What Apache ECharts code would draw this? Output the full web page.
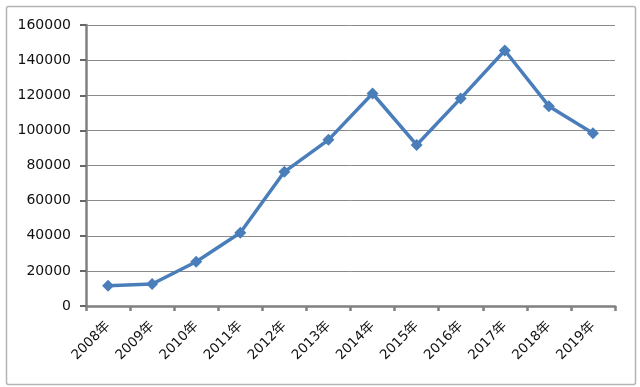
<!DOCTYPE html>
<html>
<head>
<meta charset="utf-8">
<script src="https://cdn.jsdelivr.net/npm/echarts@6/dist/echarts.min.js"></script>
<style>html,body{margin:0;padding:0;background:#fff}#c{width:640px;height:387px}</style>
</head>
<body>
<div id="c"></div>
<script>
const categories = ['2008年','2009年','2010年','2011年','2012年','2013年','2014年','2015年','2016年','2017年','2018年','2019年'];
const values = [11600, 12500, 25200, 41700, 76400, 94600, 121000, 91700, 118200, 145500, 113800, 98300];
const yTicks = [0, 20000, 40000, 60000, 80000, 100000, 120000, 140000, 160000];

const chart = echarts.init(document.getElementById('c'), null, {renderer: 'canvas'});
chart.setOption({
  animation: false,
  backgroundColor: '#fff',
  graphic: [{
    type: 'rect', left: 4, top: 4, silent: true,
    shape: {width: 629, height: 378, r: 2},
    style: {fill: 'none', stroke: '#b4b4b4', lineWidth: 1.5}
  }],
  grid: {left: 86, right: 25, top: 25, bottom: 81},
  xAxis: {
    type: 'category',
    data: categories,
    boundaryGap: true,
    axisLine: {show: true, lineStyle: {color: '#808080', width: 2.5}},
    axisTick: {show: true, alignWithLabel: false, length: 5, lineStyle: {color: '#808080', width: 2.5}},
    axisLabel: {rotate: 45, margin: 18, color: '#111', fontSize: 13.5, fontFamily: 'DejaVu Sans, Noto Sans CJK SC', interval: 0}
  },
  yAxis: {
    type: 'value',
    min: yTicks[0],
    max: yTicks[yTicks.length - 1],
    interval: yTicks[1] - yTicks[0],
    axisLine: {show: true, lineStyle: {color: '#808080', width: 2.5}},
    axisTick: {show: true, length: 6, lineStyle: {color: '#666666', width: 2}},
    axisLabel: {margin: 15, color: '#111', fontSize: 14, fontFamily: 'DejaVu Sans', formatter: (v) => String(v)},
    splitLine: {show: true, lineStyle: {color: '#8a8a8a', width: 1}}
  },
  series: [{
    type: 'line',
    data: values,
    symbol: 'diamond',
    symbolSize: 12,
    lineStyle: {color: '#4a7ebb', width: 3.5},
    itemStyle: {color: '#4a7ebb'}
  }]
});
</script>
</body>
</html>
